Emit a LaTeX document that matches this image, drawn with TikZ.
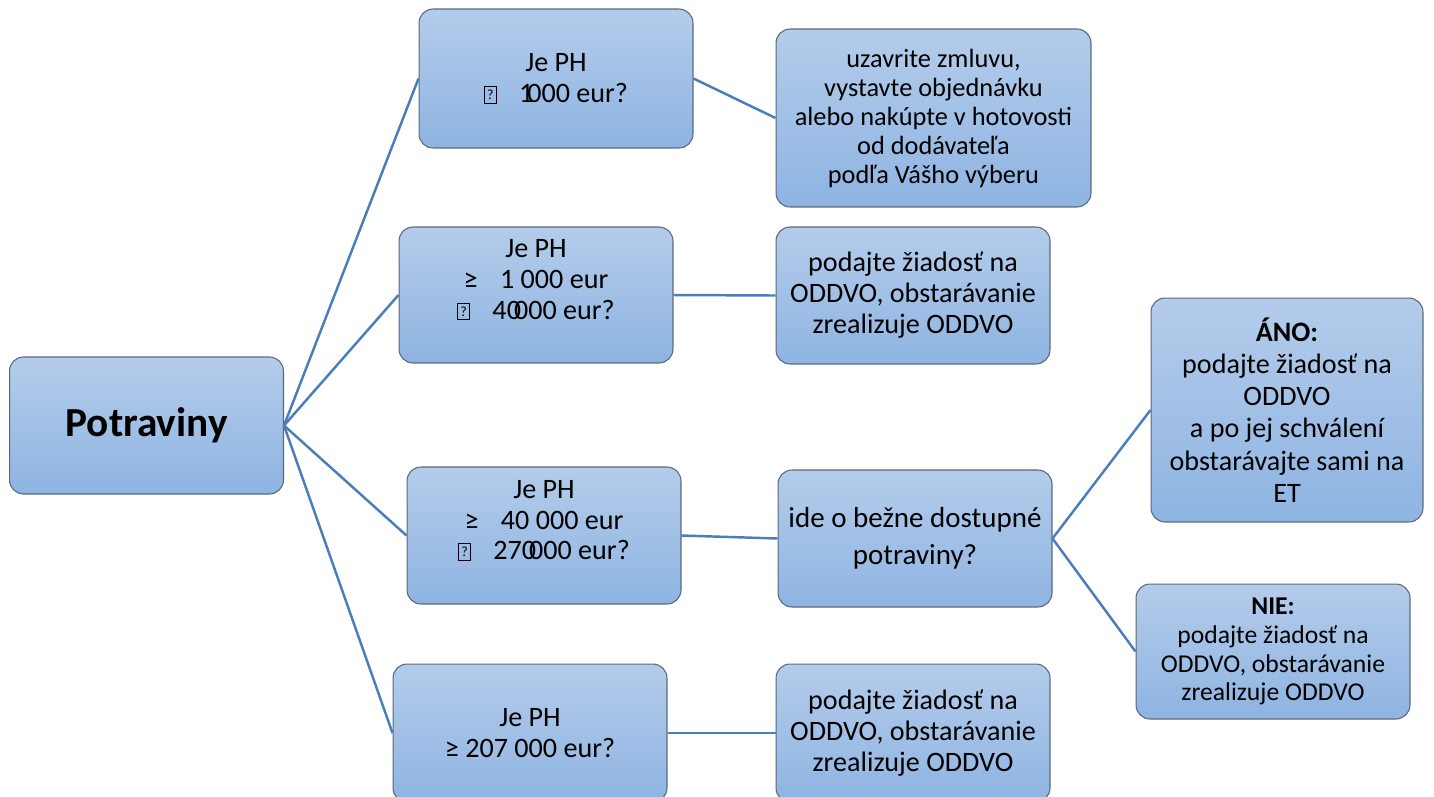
\documentclass[tikz,border=0pt]{standalone}
\usepackage{fontspec}
\setmainfont{Carlito}
\usepackage{xcolor}
\usepackage{tikz}
\definecolor{boxtop}{RGB}{180,204,234}
\definecolor{boxbot}{RGB}{142,180,226}
\definecolor{boxedge}{RGB}{90,104,124}
\definecolor{linkblue}{RGB}{74,126,187}
\newcommand{\nochar}{%
    {\setlength{\fboxsep}{0pt}\setlength{\fboxrule}{0.45pt}%
    \raisebox{0pt}{\framebox[7.2pt]{\rule{0pt}{9.2pt}\raisebox{1.8pt}{\fontsize{8}{8}\selectfont ?}}}}%
}

\begin{document}
\begin{tikzpicture}[x=0.02cm,y=-0.02cm,
    box/.style={draw=boxedge, line width=0.6pt, rounded corners=0.28cm,
        top color=boxtop, bottom color=boxbot, align=center, inner sep=0pt,
        minimum width=5.48cm, minimum height=2.74cm,
        font=\fontsize{16}{17.6}\selectfont},
    link/.style={draw=linkblue, line width=1.4pt}]
    \useasboundingbox (0,0) rectangle (1434,796);
    \node[box, font=\bfseries\fontsize{23.5}{28}\selectfont] (potraviny) at (146.5,425.5) {Potraviny};
    \node[box, minimum height=2.78cm] (ph1) at (556,78.5) {Je PH\\ \nochar\hspace{0.8em}1\kern-0.22em000 eur?};
    \node[box, minimum height=2.72cm] (ph2) at (536,295) {Je PH\\ ≥\hspace{0.8em}1 000 eur\\ \nochar\hspace{0.8em}40\kern-0.25em000 eur?\\ ~};
    \node[box] (ph3) at (544,535.5) {Je PH\\ ≥\hspace{0.8em}40 000 eur\\ \nochar\hspace{0.8em}270\kern-0.25em000 eur?\\ ~};
    \node[box, minimum height=2.76cm] (ph4) at (530,733) {Je PH\\ ≥ 207 000 eur?};
    \node[box, minimum width=6.3cm, minimum height=3.56cm, font=\fontsize{15}{16.5}\selectfont] (buy) at (933.5,118)
        {uzavrite zmluvu,\\ vystavte objednávku\\ alebo nakúpte v hotovosti\\ od dodávateľa\\ podľa Vášho výberu};
    \node[box] (oddvo2) at (913,295.5) {podajte žiadosť na\\ ODDVO, obstarávanie\\ zrealizuje ODDVO};
    \node[box, font=\fontsize{16.5}{21}\selectfont] (bezne) at (915,538.5) {ide o bežne dostupné\\ potraviny?};
    \node[box, minimum height=2.76cm] (oddvo4) at (913,733) {podajte žiadosť na\\ ODDVO, obstarávanie\\ zrealizuje ODDVO};
    \node[box, minimum width=5.44cm, minimum height=4.48cm, font=\fontsize{16}{18.4}\selectfont] (ano) at (1287,410)
        {\textbf{ÁNO:}\\ podajte žiadosť na\\ ODDVO\\ a po jej schválení\\ obstarávajte sami na\\ ET};
    \node[box, minimum height=2.7cm, font=\fontsize{14.6}{16.4}\selectfont] (nie) at (1273,651.5)
        {\textbf{NIE:}\\ podajte žiadosť na\\ ODDVO, obstarávanie\\ zrealizuje ODDVO};
    \foreach \a/\b in {potraviny/ph1,potraviny/ph2,potraviny/ph3,potraviny/ph4,
        ph1/buy,ph2/oddvo2,ph3/bezne,ph4/oddvo4,bezne/ano,bezne/nie}{%
        \draw[link] (\a.east) -- (\b.west);
    }%
\end{tikzpicture}
\end{document}
